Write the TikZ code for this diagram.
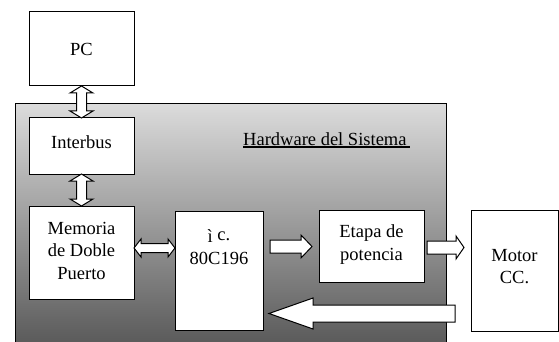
\documentclass[tikz,border=0pt]{standalone}
\usepackage{fontspec}
\setmainfont{Liberation Serif}
\usetikzlibrary{calc}
\begin{document}
\begin{tikzpicture}[x=1pt,y=-1pt,
  box/.style={draw,line width=1pt,fill=white,inner sep=0pt,align=center},
  lbl/.style={inner sep=0pt,align=center},
  blk/.style={draw,line width=1pt,fill=white,line join=miter},
  font=\fontsize{18.5}{22.5}\selectfont]
\useasboundingbox (0,0) rectangle (559,342);
\fill[white] (0,0) rectangle (559,342);
% hardware region
\shade[top color=black!14,bottom color=black!66] (15,104) rectangle (446,350);
\draw[line width=1pt] (15,350) -- (15,104) -- (446,104) -- (446,350);
\node[lbl,anchor=base west] (hw) at (243,145) {Hardware del Sistema};
\draw[line width=1.5pt] ($(hw.base west)+(0,2)$) -- ($(hw.base east)+(3,2)$);
% boxes
\node[box,minimum width=105pt,minimum height=74pt] (pc) at (81.5,49) {PC};
\node[box,minimum width=105pt,minimum height=56pt] (ib) at (81.5,146) {};
\node[lbl] (ibt) at (81.5,142) {Interbus};
\node[box,minimum width=105pt,minimum height=93pt] (mem) at (81.5,252.5) {};
\node[lbl] (memt) at (81.5,250.5) {Memoria\\de Doble\\Puerto};
\node[box,minimum width=88pt,minimum height=119pt] (uc) at (219,270.5) {};
\node[lbl] (uct) at (219,247) {ì \raisebox{1.5pt}{c.}\\80C196};
\node[box,minimum width=105pt,minimum height=72pt] (et) at (371.5,246) {};
\node[lbl] (ett) at (371.5,244.5) {Etapa de\\potencia};
\node[box,minimum width=87pt,minimum height=121pt] (mo) at (514.5,270.5) {};
\node[lbl] (mot) at (514.5,266.5) {Motor\\CC.};
% block arrows
% PC <-> Interbus (vertical double)
\draw[blk] (81.5,86) -- (93,93) -- (86.5,93) -- (86.5,111) -- (93,111) -- (81.5,118)
  -- (70,111) -- (76.5,111) -- (76.5,93) -- (70,93) -- cycle;
% Interbus <-> Memoria
\draw[blk] (81.5,174) -- (93,181) -- (86.5,181) -- (86.5,199) -- (93,199) -- (81.5,206)
  -- (70,199) -- (76.5,199) -- (76.5,181) -- (70,181) -- cycle;
% Memoria <-> uC (horizontal double)
\draw[blk] (134,248) -- (141,239) -- (141,243.5) -- (168,243.5) -- (168,239) -- (175,248)
  -- (168,257) -- (168,252.5) -- (141,252.5) -- (141,257) -- cycle;
% uC -> Etapa
\draw[blk] (270,240) -- (301,240) -- (301,235) -- (312,246.5) -- (301,258) -- (301,253)
  -- (270,253) -- cycle;
% Etapa -> Motor
\draw[blk] (427,241) -- (456,241) -- (456,236) -- (464,247.5) -- (456,259) -- (456,254)
  -- (427,254) -- cycle;
% Motor -> uC (feedback)
\draw[blk] (455,305) -- (313,305) -- (313,298) -- (269,313.5) -- (313,329) -- (313,322)
  -- (455,322) -- cycle;
\end{tikzpicture}
\end{document}
